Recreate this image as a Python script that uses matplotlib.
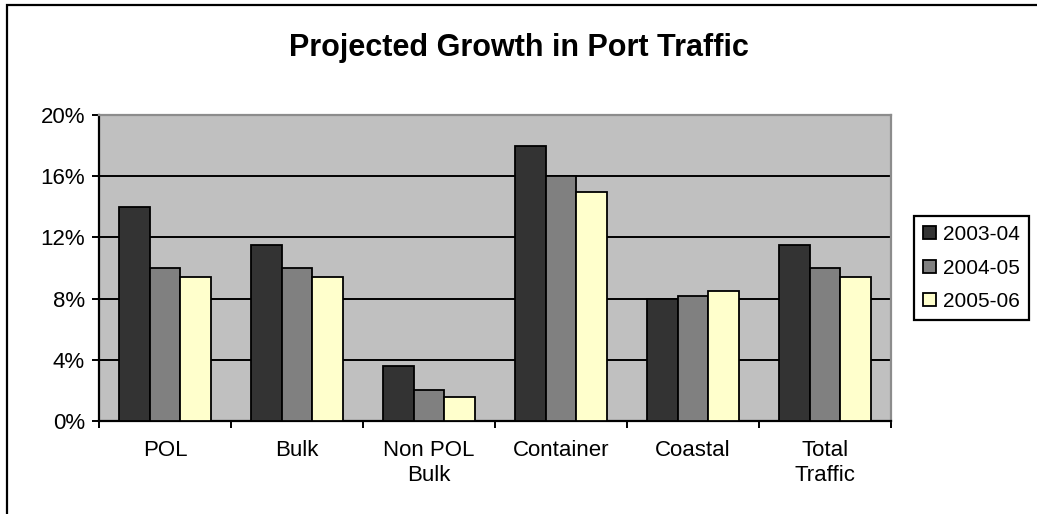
import matplotlib
matplotlib.use("Agg")
import matplotlib.pyplot as plt
from matplotlib.patches import Rectangle
from matplotlib.ticker import FuncFormatter, FixedLocator
import numpy as np

plt.rcParams['font.family'] = ['Liberation Sans', 'DejaVu Sans']

categories = ["POL", "Bulk", "Non POL\nBulk", "Container", "Coastal", "Total\nTraffic"]
series_names = ["2003-04", "2004-05", "2005-06"]
growth_2003_04 = [14.0, 11.5, 3.6, 18.0, 8.0, 11.5]
growth_2004_05 = [10.0, 10.0, 2.0, 16.0, 8.2, 10.0]
growth_2005_06 = [9.4, 9.4, 1.6, 15.0, 8.5, 9.4]
y_ticks = [0, 4, 8, 12, 16, 20]

colors = ["#333333", "#808080", "#FFFFCC"]

W, H = 1037, 514
fig = plt.figure(figsize=(W / 100, H / 100), dpi=100)
fig.patch.set_facecolor("white")

# outer chart border (left and top edges visible)
fig.patches.append(Rectangle((7 / W, -0.1), 1.2, (1 - 5 / H) + 0.1,
                             transform=fig.transFigure, fill=False,
                             edgecolor="black", linewidth=1.6))

ax = fig.add_axes([99 / W, 1 - 421 / H, (891 - 99) / W, (421 - 115) / H])
ax.set_facecolor("#C0C0C0")

x = np.arange(len(categories))
w = 0.23
for i, (vals, name) in enumerate(zip([growth_2003_04, growth_2004_05, growth_2005_06], series_names)):
    ax.bar(x + (i - 1) * w, vals, width=w, color=colors[i], edgecolor="black",
           linewidth=1.3, label=name, zorder=3)

ax.set_xlim(-0.5, len(categories) - 0.5)
ax.set_ylim(0, 20)
ax.set_yticks(y_ticks)
ax.yaxis.set_major_formatter(FuncFormatter(lambda v, p: f"{int(v)}%"))
ax.grid(axis="y", color="black", linewidth=1.4, zorder=1)
ax.set_axisbelow(True)

ax.set_xticks(x)
ax.set_xticklabels(categories, fontsize=16, linespacing=1.25)
ax.xaxis.set_minor_locator(FixedLocator(np.arange(-0.5, len(categories), 1.0)))
ax.tick_params(axis="x", which="major", length=0, pad=14)
ax.tick_params(axis="x", which="minor", length=5, width=1.4, direction="out", color="black")
ax.tick_params(axis="y", which="major", length=5, width=1.4, direction="out", pad=5, labelsize=16)

for side in ("left", "bottom"):
    ax.spines[side].set_color("black")
    ax.spines[side].set_linewidth(1.6)
for side in ("top", "right"):
    ax.spines[side].set_color("#8C8C8C")
    ax.spines[side].set_linewidth(1.6)

fig.text(519 / W, 1 - 48 / H, "Projected Growth in Port Traffic", ha="center", va="center",
         fontsize=22, fontweight="bold")

leg = fig.legend(loc="center left", bbox_to_anchor=(914 / W, 1 - 268 / H), fontsize=15,
                 frameon=True, fancybox=False, edgecolor="black", framealpha=1,
                 handlelength=0.6, handleheight=0.6, handletextpad=0.35,
                 labelspacing=0.7, borderpad=0.45, borderaxespad=0)
leg.get_frame().set_linewidth(1.6)

fig.savefig("out.png", dpi=100)
